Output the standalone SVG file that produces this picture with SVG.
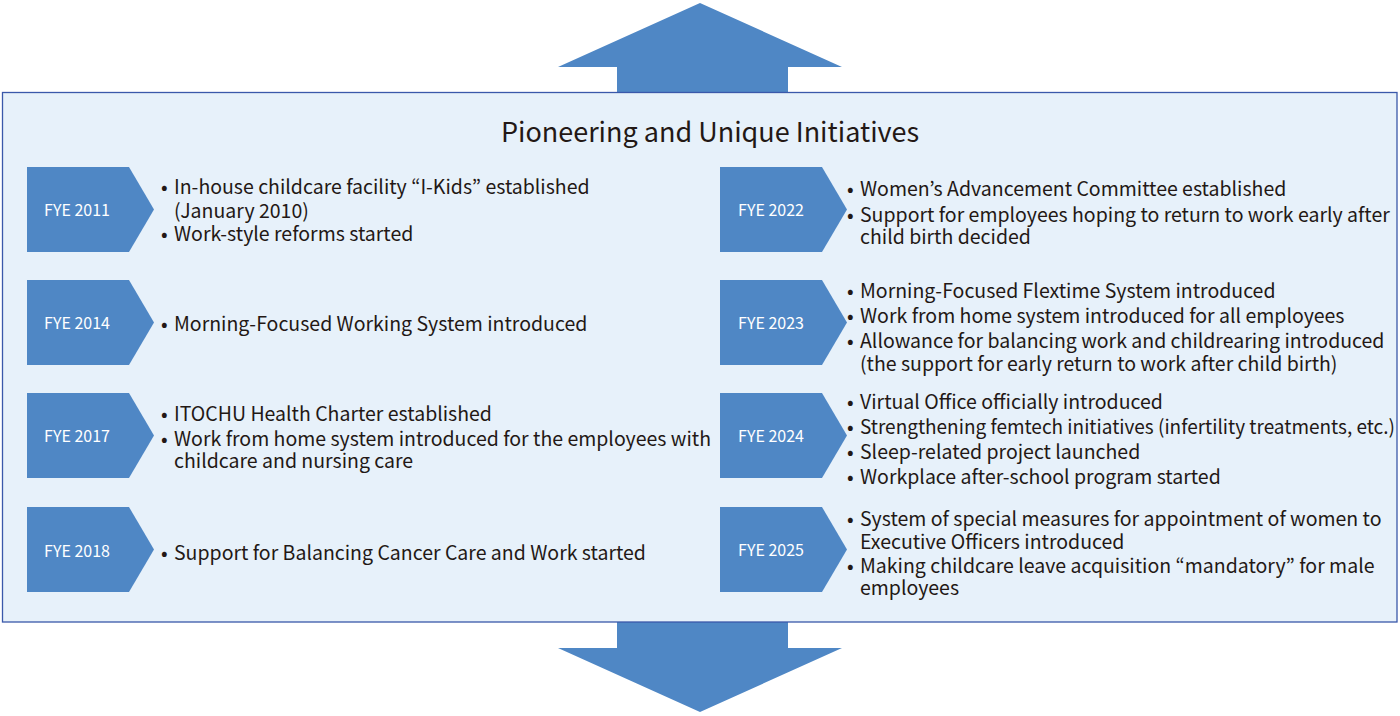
<svg xmlns="http://www.w3.org/2000/svg" width="1400" height="716" viewBox="0 0 1400 716">
<style>
.arrow{fill:#4F87C5}
.tag{fill:#4F87C5}
.tagt{font-family:"Noto Sans CJK JP","Noto Sans",sans-serif;font-size:16px;fill:#ffffff;text-anchor:middle}
.body{font-family:"Noto Sans CJK JP","Noto Sans",sans-serif;font-size:19.5px;fill:#231815}
.title{font-family:"Noto Sans CJK JP","Noto Sans",sans-serif;font-size:27px;fill:#231815;text-anchor:middle}
</style>
<defs>
<polygon id="tagshape" points="0,0 102,0 127,42.5 102,85 0,85"/>
</defs>
<g id="arrows">
<polygon class="arrow" points="700,3 842,67 788,67 788,93 617,93 617,67 558,67"/>
<polygon class="arrow" points="617,621 788,621 788,648 842,648 700,712 558,648 617,648"/>
</g>
<g id="panel">
<rect x="2.5" y="92.5" width="1394.5" height="529.5" fill="#E7F1FA" stroke="#3A58AA" stroke-width="1.3"/>
<text class="title" x="710" y="141.5">Pioneering and Unique Initiatives</text>
</g>
<g id="fye2011">
<use href="#tagshape" class="tag" x="27" y="167"/>
<text class="tagt" x="77" y="215.5">FYE 2011</text>
<text class="body"><tspan x="161" y="194">•</tspan><tspan x="174" y="194">In-house childcare facility “I-Kids” established</tspan><tspan x="174" y="217.5">(January 2010)</tspan><tspan x="161" y="241">•</tspan><tspan x="174" y="241">Work-style reforms started</tspan></text>
</g>
<g id="fye2014">
<use href="#tagshape" class="tag" x="27" y="280"/>
<text class="tagt" x="77" y="328.5">FYE 2014</text>
<text class="body"><tspan x="161" y="331">•</tspan><tspan x="174" y="331">Morning-Focused Working System introduced</tspan></text>
</g>
<g id="fye2017">
<use href="#tagshape" class="tag" x="27" y="393"/>
<text class="tagt" x="77" y="441.5">FYE 2017</text>
<text class="body"><tspan x="161" y="420.5">•</tspan><tspan x="174" y="420.5">ITOCHU Health Charter established</tspan><tspan x="161" y="445.5">•</tspan><tspan x="174" y="445.5">Work from home system introduced for the employees with</tspan><tspan x="174" y="468">childcare and nursing care</tspan></text>
</g>
<g id="fye2018">
<use href="#tagshape" class="tag" x="27" y="507"/>
<text class="tagt" x="77" y="557">FYE 2018</text>
<text class="body"><tspan x="161" y="559.5">•</tspan><tspan x="174" y="559.5">Support for Balancing Cancer Care and Work started</tspan></text>
</g>
<g id="fye2022">
<use href="#tagshape" class="tag" x="720" y="167"/>
<text class="tagt" x="771" y="215.5">FYE 2022</text>
<text class="body"><tspan x="847" y="196">•</tspan><tspan x="860" y="196">Women’s Advancement Committee established</tspan><tspan x="847" y="221.5">•</tspan><tspan x="860" y="221.5">Support for employees hoping to return to work early after</tspan><tspan x="860" y="244">child birth decided</tspan></text>
</g>
<g id="fye2023">
<use href="#tagshape" class="tag" x="720" y="280"/>
<text class="tagt" x="771" y="328.5">FYE 2023</text>
<text class="body"><tspan x="847" y="297.5">•</tspan><tspan x="860" y="297.5">Morning-Focused Flextime System introduced</tspan><tspan x="847" y="322.5">•</tspan><tspan x="860" y="322.5">Work from home system introduced for all employees</tspan><tspan x="847" y="348">•</tspan><tspan x="860" y="348">Allowance for balancing work and childrearing introduced</tspan><tspan x="860" y="370.5">(the support for early return to work after child birth)</tspan></text>
</g>
<g id="fye2024">
<use href="#tagshape" class="tag" x="720" y="393"/>
<text class="tagt" x="771" y="441.5">FYE 2024</text>
<text class="body"><tspan x="847" y="409">•</tspan><tspan x="860" y="409">Virtual Office officially introduced</tspan><tspan x="847" y="434">•</tspan><tspan x="860" y="434" textLength="535" lengthAdjust="spacingAndGlyphs">Strengthening femtech initiatives (infertility treatments, etc.)</tspan><tspan x="847" y="458.5">•</tspan><tspan x="860" y="458.5">Sleep-related project launched</tspan><tspan x="847" y="483.5">•</tspan><tspan x="860" y="483.5">Workplace after-school program started</tspan></text>
</g>
<g id="fye2025">
<use href="#tagshape" class="tag" x="720" y="507"/>
<text class="tagt" x="771" y="555.5">FYE 2025</text>
<text class="body"><tspan x="847" y="525.5">•</tspan><tspan x="860" y="525.5">System of special measures for appointment of women to</tspan><tspan x="860" y="548.5">Executive Officers introduced</tspan><tspan x="847" y="572.5">•</tspan><tspan x="860" y="572.5">Making childcare leave acquisition “mandatory” for male</tspan><tspan x="860" y="594.5">employees</tspan></text>
</g>
</svg>
